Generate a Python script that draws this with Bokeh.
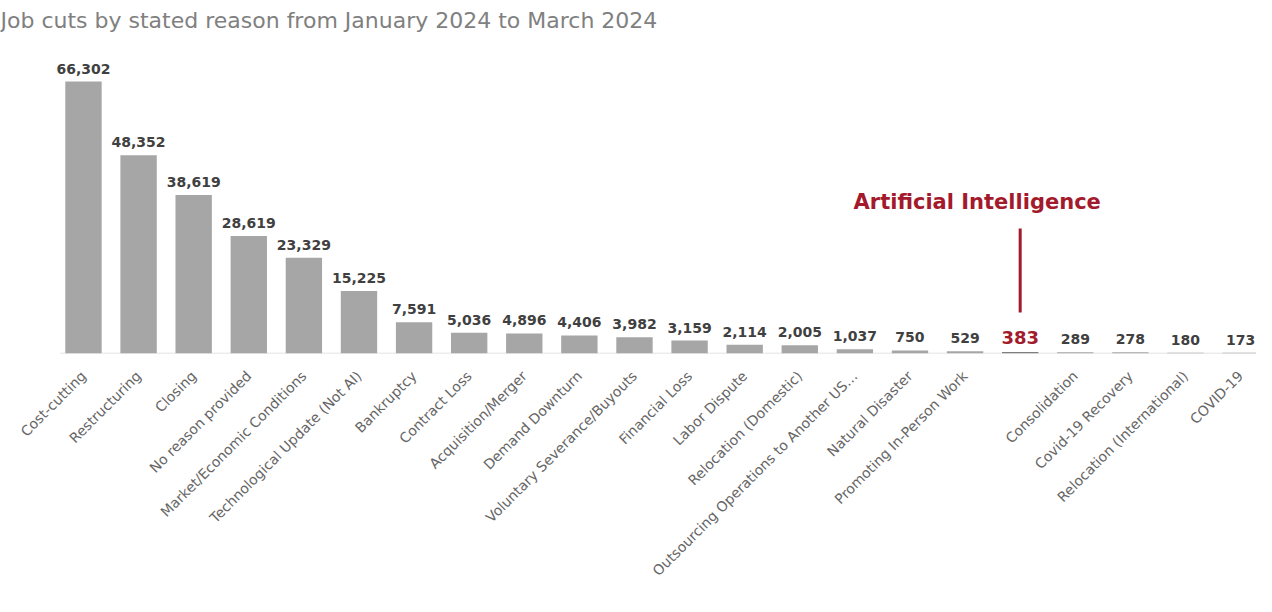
import math
from bokeh.plotting import figure
from bokeh.models import ColumnDataSource, Range1d, FixedTicker, Label
from bokeh.core.properties import value
from bokeh.embed import file_html
from bokeh.resources import INLINE

title_text = "Job cuts by stated reason from January 2024 to March 2024"

categories = [
    "Cost-cutting", "Restructuring", "Closing", "No reason provided",
    "Market/Economic Conditions", "Technological Update (Not AI)", "Bankruptcy",
    "Contract Loss", "Acquisition/Merger", "Demand Downturn",
    "Voluntary Severance/Buyouts", "Financial Loss", "Labor Dispute",
    "Relocation (Domestic)", "Outsourcing Operations to Another US\u2026",
    "Natural Disaster", "Promoting In-Person Work", "Artificial Intelligence",
    "Consolidation", "Covid-19 Recovery", "Relocation (International)", "COVID-19",
]
job_cuts = [66302, 48352, 38619, 28619, 23329, 15225, 7591, 5036, 4896, 4406,
            3982, 3159, 2114, 2005, 1037, 750, 529, 383, 289, 278, 180, 173]
# tick labels (the AI bar has no axis label in the original)
tick_labels = [c if c != "Artificial Intelligence" else "" for c in categories]
highlight = "Artificial Intelligence"

GRAY = "#a6a6a6"
RED = "#a31a2c"
DARK = "#404040"
FONT = "DejaVu Sans"

idx = list(range(len(categories)))
src = ColumnDataSource(dict(
    x=idx,
    top=job_cuts,
    lab=[f"{v:,}" for v in job_cuts],
    color=[RED if c == highlight else DARK for c in categories],
    size=["18px" if c == highlight else "14px" for c in categories],
    bar=["#7f7f7f" if c == highlight else GRAY for c in categories],
))

W, H = 1256, 596
X0, X1 = -1.506, 21.289
Y1 = 86047
p = figure(width=W, height=H, output_backend="svg", toolbar_location=None,
           x_range=Range1d(X0, X1), y_range=Range1d(0, Y1),
           min_border_left=0, min_border_right=0, min_border_top=0,
           min_border_bottom=243, tools="")
p.background_fill_color = "white"
p.border_fill_color = "white"
p.outline_line_color = None
p.xgrid.visible = False
p.ygrid.visible = False
p.yaxis.visible = False

# baseline
p.segment(x0=[-0.42], y0=[0], x1=[X1], y1=[0], line_color="#d9d9d9",
          line_width=1.5)

p.vbar(x="x", top="top", width=0.66, bottom=0, source=src,
       fill_color="bar", line_color=None)

p.text(x="x", y="top", text="lab", source=src, text_align="center",
       text_baseline="bottom", y_offset=-8, text_color="color",
       text_font_size="size", text_font_style="bold",
       text_font=value(FONT))

ax = p.xaxis[0]
ax.ticker = FixedTicker(ticks=idx)
ax.major_label_overrides = {i: t for i, t in zip(idx, tick_labels)}
ax.major_label_orientation = math.pi / 4
ax.major_label_text_font = FONT
ax.major_label_text_font_size = "14px"
ax.major_label_text_color = "#666666"
ax.major_label_standoff = 14
ax.major_tick_line_color = None
ax.minor_tick_line_color = None
ax.axis_line_color = None

ai = categories.index(highlight)
p.add_layout(Label(x=ai - 0.78, y=37050, text="Artificial Intelligence",
                   text_align="center", text_baseline="middle",
                   text_color=RED, text_font_size="21px",
                   text_font_style="bold", text_font=FONT))
p.segment(x0=[ai], y0=[9994], x1=[ai], y1=[30468], line_color=RED,
          line_width=3)

p.add_layout(Label(x=X0, y=81172, text=title_text, text_align="left",
                   text_baseline="middle", text_color="#808080",
                   text_font_size="22px", text_font=FONT))

open("out.html", "w").write(file_html(p, INLINE))
